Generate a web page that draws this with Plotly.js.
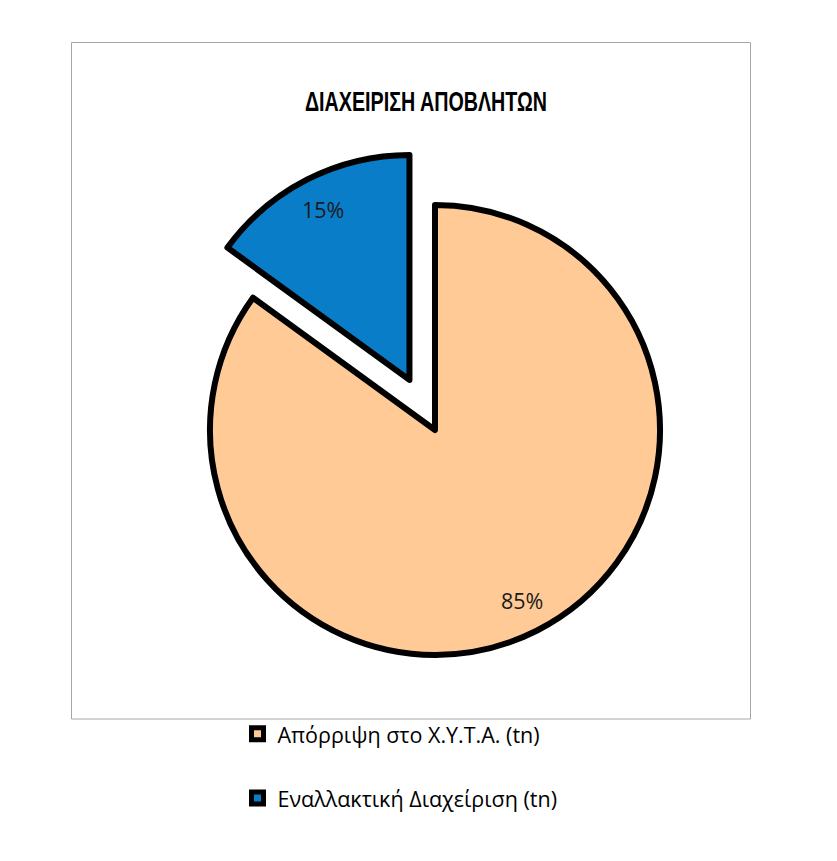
<!DOCTYPE html>
<html>
<head>
<meta charset="utf-8">
<script src="https://cdn.plot.ly/plotly-3.0.1.min.js"></script>
<style>
html,body{margin:0;padding:0;background:#fff;}
#chart{width:837px;height:861px;}
/* narrow (condensed) look of the original title font */
#chart .gtitle{transform-box:fill-box;transform-origin:50% 50%;transform:scaleX(0.73);}
</style>
</head>
<body>
<div id="chart"></div>
<script>
const chartTitle = "ΔΙΑΧΕΙΡΙΣΗ ΑΠΟΒΛΗΤΩΝ";
const categories = ["Απόρριψη στο Χ.Υ.Τ.Α. (tn)", "Εναλλακτική Διαχείριση (tn)"];
const shares = [85, 15];
const sliceColors = ["#FFCA96", "#0A7DC9"];
const pulls = [0, 0.25];

const W = 837, H = 861;
const cx = 435, cy = 430, rad = 225;
const half = rad * (1 + Math.max(...pulls));
const labelRadius = 0.85;
const labelFont = { family: "Open Sans, Noto Sans, sans-serif", size: 21.5, color: "#1a1a1a" };

const trace = {
  type: "pie",
  labels: categories.map(c => "<span style='font-size:21.5px'>" + c + "</span><br> "),
  values: shares,
  sort: false,
  direction: "clockwise",
  rotation: 0,
  pull: pulls,
  marker: { colors: sliceColors, line: { color: "#000000", width: 6 } },
  textinfo: "none",
  hoverinfo: "label+percent",
  domain: { x: [(cx - half) / W, (cx + half) / W], y: [1 - (cy + half) / H, 1 - (cy - half) / H] }
};

const layout = {
  width: W, height: H,
  margin: { l: 0, r: 0, t: 0, b: 0 },
  paper_bgcolor: "#ffffff",
  title: {
    text: "<b>" + chartTitle + "</b>",
    font: { family: "Liberation Sans, Arial, sans-serif", size: 27, color: "#000000", weight: "bold" },
    x: 426 / W, xanchor: "center", xref: "paper",
    y: 1 - 102 / H, yanchor: "middle", yref: "paper"
  },
  showlegend: true,
  legend: {
    orientation: "v",
    x: 237.5 / W, xanchor: "left",
    y: 1 - 712 / H, yanchor: "top",
    valign: "top",
    font: { family: "Open Sans, Noto Sans, sans-serif", size: 23.5, color: "#000000" },
    bgcolor: "rgba(0,0,0,0)"
  },
  shapes: [{
    type: "rect", xref: "paper", yref: "paper",
    x0: 71.5 / W, x1: 750.5 / W, y0: 1 - 719 / H, y1: 1 - 42.5 / H,
    line: { color: "#A6A6A6", width: 1 }, fillcolor: "rgba(0,0,0,0)", layer: "below"
  }]
};

const gd = document.getElementById("chart");
Plotly.newPlot(gd, [trace], layout, { displayModeBar: false, staticPlot: true }).then(() => {
  const cd = gd.calcdata[0];
  const cd0 = cd[0];
  const size = gd._fullLayout._size;
  const anns = cd.map((pt, i) => {
    const k = pulls[i] + labelRadius;
    const px = cd0.cx + pt.pxmid[0] * k;
    const py = cd0.cy + pt.pxmid[1] * k;
    return {
      xref: "paper", yref: "paper",
      x: (px - size.l) / size.w, y: 1 - (py - size.t) / size.h,
      xanchor: "center", yanchor: "middle",
      text: Math.round(100 * pt.v / cd0.vTotal) + "%",
      showarrow: false, font: labelFont
    };
  });
  return Plotly.relayout(gd, { annotations: anns });
});
</script>
</body>
</html>
